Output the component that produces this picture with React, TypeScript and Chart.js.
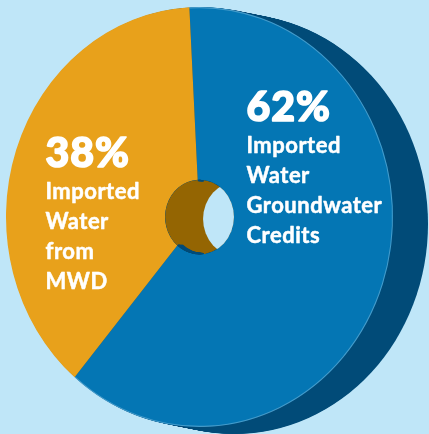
import React, { useEffect, useRef } from "react";
import { Chart, registerables } from "chart.js";

Chart.register(...registerables);

// ---- data ----
const categories = ["Imported Water Groundwater Credits", "Imported Water from MWD"];
const shares = [62, 38];
const labelLines = [
  ["Imported", "Water", "Groundwater", "Credits"],
  ["Imported", "Water", "from", "MWD"],
];

// ---- style ----
const BG = "#bfe6f8";
const faceColors = ["#0476b4", "#e8a11b"];
const sideColors = ["#014b78", "#946502"];
const Y_SCALE = 1.085;
const DEPTH_X = 35;
const DEPTH_Y = 7;
const HOLE_DX = 38;
const HOLE_DY = 2;

function intersect(a0: number, a1: number, b0: number, b1: number): [number, number][] {
  const out: [number, number][] = [];
  const TAU = Math.PI * 2;
  for (let k = -2; k <= 2; k++) {
    const s = Math.max(a0, b0 + k * TAU);
    const e = Math.min(a1, b1 + k * TAU);
    if (e > s) out.push([s, e]);
  }
  return out;
}

const pie3d = {
  id: "pie3d",
  beforeDatasetsDraw(chart: any) {
    const ctx = chart.ctx;
    const arc = chart.getDatasetMeta(0).data[0];
    if (!arc) return;
    const { x, y, outerRadius } = arc.getProps(["x", "y", "outerRadius"], true);
    ctx.save();
    ctx.translate(x, y);
    ctx.scale(1, Y_SCALE);
    ctx.translate(-x, -y);
    // extruded side
    ctx.fillStyle = sideColors[0];
    const N = 40;
    for (let i = 1; i <= N; i++) {
      ctx.beginPath();
      ctx.arc(x + (DEPTH_X * i) / N, y + ((DEPTH_Y / Y_SCALE) * i) / N, outerRadius, 0, Math.PI * 2);
      ctx.fill();
    }
  },
  afterDatasetsDraw(chart: any) {
    const ctx = chart.ctx;
    const meta = chart.getDatasetMeta(0);
    const arc0 = meta.data[0];
    if (!arc0) {
      ctx.restore();
      return;
    }
    const { x, y, innerRadius, outerRadius } = arc0.getProps(["x", "y", "innerRadius", "outerRadius"], true);
    // faint rim highlight on blue face edge
    const p0 = arc0.getProps(["startAngle", "endAngle"], true);
    ctx.beginPath();
    ctx.arc(x, y, outerRadius - 0.5, p0.startAngle, p0.endAngle);
    ctx.strokeStyle = "rgba(190,225,245,0.35)";
    ctx.lineWidth = 1;
    ctx.stroke();
    // hole inner wall
    ctx.save();
    ctx.beginPath();
    ctx.arc(x, y, innerRadius, 0, Math.PI * 2);
    ctx.clip();
    ctx.fillStyle = sideColors[1];
    ctx.fill();
    const N = 60;
    ctx.lineWidth = 2;
    meta.data.forEach((el: any, i: number) => {
      if (i === 1) return;
      const p = el.getProps(["startAngle", "endAngle"], true);
      const segs = intersect(p.startAngle, p.endAngle, Math.PI / 2, (Math.PI * 3) / 2);
      const steps = Math.round(N * 0.12);
      for (let s = 0; s <= steps; s++) {
        const cxs = x + (HOLE_DX * s) / N;
        const cys = y + ((HOLE_DY / Y_SCALE) * s) / N;
        segs.forEach(([a, b]) => {
          ctx.beginPath();
          ctx.arc(cxs, cys, innerRadius - 0.5, a, b);
          ctx.strokeStyle = sideColors[i];
          ctx.stroke();
        });
      }
    });
    ctx.beginPath();
    ctx.arc(x + HOLE_DX, y + HOLE_DY / Y_SCALE, innerRadius, 0, Math.PI * 2);
    ctx.fillStyle = BG;
    ctx.fill();
    ctx.restore();
    ctx.restore();
  },
  afterDraw(chart: any) {
    const ctx = chart.ctx;
    const meta = chart.getDatasetMeta(0);
    const arc0 = meta.data[0];
    if (!arc0) return;
    const { x, y } = arc0.getProps(["x", "y"], true);
    const anchors = [
      { x: x + 47, y: y - 96 },
      { x: x - 154, y: y - 50 },
    ];
    ctx.save();
    ctx.fillStyle = "#ffffff";
    ctx.strokeStyle = "#ffffff";
    ctx.lineJoin = "round";
    ctx.textAlign = "left";
    ctx.textBaseline = "alphabetic";
    shares.forEach((v, i) => {
      const a = anchors[i];
      ctx.font = "900 41px Lato, 'DejaVu Sans', sans-serif";
      (ctx as any).letterSpacing = "1px";
      ctx.lineWidth = 1.6;
      ctx.fillText(`${v}%`, a.x, a.y);
      ctx.strokeText(`${v}%`, a.x, a.y);
      ctx.font = "bold 22px Lato, 'DejaVu Sans', sans-serif";
      (ctx as any).letterSpacing = "0.5px";
      ctx.lineWidth = 0.5;
      labelLines[i].forEach((line, j) => {
        ctx.fillText(line, a.x, a.y + 32 + j * 30);
        ctx.strokeText(line, a.x, a.y + 32 + j * 30);
      });
    });
    ctx.restore();
  },
};

export default function App() {
  const ref = useRef<HTMLCanvasElement | null>(null);
  useEffect(() => {
    document.body.style.margin = "0";
    document.body.style.background = BG;
    const chart = new Chart(ref.current as HTMLCanvasElement, {
      type: "doughnut",
      data: {
        labels: categories,
        datasets: [
          {
            data: shares,
            backgroundColor: faceColors,
            borderWidth: 0,
          },
        ],
      },
      options: {
        responsive: false,
        animation: false,
        rotation: -3,
        cutout: "17.8%",
        layout: { padding: { left: 6, right: 36, top: 17, bottom: 17 } },
        plugins: {
          legend: { display: false },
          tooltip: { enabled: false },
        },
        events: [],
      },
      plugins: [pie3d],
    });
    if ((document as any).fonts) {
      (document as any).fonts.load("bold 22px Lato").then(() => chart.update()).catch(() => {});
      (document as any).fonts.load("900 41px Lato").then(() => chart.update()).catch(() => {});
    }
    return () => chart.destroy();
  }, []);
  return (
    <div style={{ position: "fixed", left: 0, top: 0, width: 429, height: 434, background: BG }}>
      <canvas ref={ref} width={429} height={434} style={{ display: "block" }} />
    </div>
  );
}
